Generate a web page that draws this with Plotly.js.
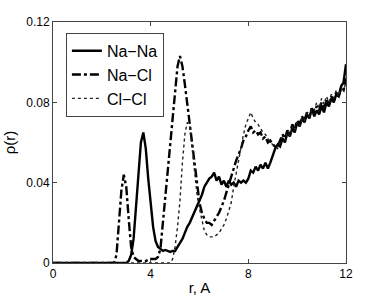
<!DOCTYPE html>
<html><head><meta charset="utf-8">
<script src="https://cdn.plot.ly/plotly-3.0.1.min.js"></script>
<style>html,body{margin:0;padding:0;background:#fff}#c{width:382px;height:300px}</style>
</head><body><div id="c"></div>
<script>
// Na–Na radial distribution
const rNaNa = [0,3.0,3.1,3.2,3.3,3.4,3.5,3.6,3.7,3.8,3.9,4.0,4.1,4.2,4.3,4.4,4.5,4.6,4.7,4.8,4.9,5.0,5.1,5.2,5.3,5.4,5.5,5.6,5.7,5.8,5.9,6.0,6.1,6.2,6.3,6.4,6.5,6.6,6.7,6.8,6.9,7.0,7.1,7.2,7.3,7.4,7.5,7.6,7.7,7.8,7.9,8.0,8.1,8.2,8.3,8.4,8.5,8.6,8.7,8.8,8.9,9.0,9.1,9.2,9.3,9.4,9.5,9.6,9.7,9.8,9.9,10.0,10.1,10.2,10.3,10.4,10.5,10.6,10.7,10.8,10.9,11.0,11.1,11.2,11.3,11.4,11.5,11.6,11.7,11.8,11.9,12.0];
const naNa = [0,0,0.001,0.004,0.012,0.027,0.045,0.060,0.065,0.057,0.042,0.028,0.018,0.011,0.008,0.007,0.006,0.0065,0.006,0.0055,0.006,0.006,0.008,0.010,0.012,0.015,0.018,0.020,0.023,0.026,0.028,0.031,0.034,0.038,0.040,0.042,0.043,0.045,0.041,0.043,0.039,0.041,0.038,0.041,0.039,0.040,0.038,0.041,0.040,0.041,0.040,0.042,0.046,0.045,0.048,0.046,0.049,0.047,0.050,0.047,0.050,0.054,0.057,0.059,0.058,0.062,0.060,0.065,0.063,0.067,0.065,0.070,0.068,0.072,0.070,0.074,0.072,0.077,0.073,0.076,0.074,0.078,0.075,0.080,0.078,0.082,0.080,0.084,0.083,0.088,0.090,0.099];
// Na–Cl
const rNaCl = [0,2.5,2.6,2.7,2.8,2.9,3.0,3.1,3.2,3.3,3.4,3.5,3.6,3.7,3.8,3.9,4.0,4.1,4.2,4.3,4.4,4.5,4.6,4.7,4.8,4.9,5.0,5.1,5.2,5.3,5.4,5.5,5.6,5.7,5.8,5.9,6.0,6.1,6.2,6.3,6.4,6.5,6.6,6.7,6.8,6.9,7.0,7.1,7.2,7.3,7.4,7.5,7.6,7.7,7.8,7.9,8.0,8.1,8.2,8.3,8.4,8.5,8.6,8.7,8.8,8.9,9.0,9.1,9.2,9.3,9.4,9.5,9.6,9.7,9.8,9.9,10.0,10.1,10.2,10.3,10.4,10.5,10.6,10.7,10.8,10.9,11.0,11.1,11.2,11.3,11.4,11.5,11.6,11.7,11.8,11.9,12.0];
const naCl = [0,0,0.004,0.018,0.036,0.044,0.038,0.022,0.008,0.003,0.002,0.001,0.001,0.0008,0.001,0.0015,0.002,0.002,0.002,0.003,0.007,0.020,0.033,0.043,0.056,0.070,0.085,0.098,0.103,0.098,0.089,0.079,0.069,0.058,0.048,0.038,0.030,0.025,0.022,0.020,0.020,0.019,0.021,0.023,0.025,0.028,0.031,0.035,0.039,0.044,0.048,0.051,0.054,0.057,0.061,0.063,0.066,0.068,0.065,0.066,0.064,0.065,0.062,0.063,0.060,0.061,0.059,0.058,0.058,0.061,0.064,0.062,0.066,0.064,0.069,0.067,0.071,0.069,0.073,0.071,0.075,0.073,0.077,0.075,0.078,0.076,0.080,0.077,0.081,0.079,0.083,0.081,0.085,0.083,0.087,0.086,0.092];
// Cl–Cl
const rClCl = [0,4.8,4.9,5.0,5.1,5.2,5.3,5.4,5.5,5.6,5.7,5.8,5.9,6.0,6.1,6.2,6.3,6.4,6.5,6.6,6.7,6.8,6.9,7.0,7.1,7.2,7.3,7.4,7.5,7.6,7.7,7.8,7.9,8.0,8.1,8.2,8.3,8.4,8.5,8.6,8.7,8.8,8.9,9.0,9.1,9.2,9.3,9.4,9.5,9.6,9.7,9.8,9.9,10.0,10.1,10.2,10.3,10.4,10.5,10.6,10.7,10.8,10.9,11.0,11.1,11.2,11.3,11.4,11.5,11.6,11.7,11.8,11.9,12.0];
const clCl = [0,0,0.002,0.008,0.018,0.031,0.050,0.064,0.070,0.068,0.057,0.044,0.034,0.027,0.021,0.016,0.014,0.013,0.013,0.013,0.014,0.015,0.017,0.019,0.022,0.026,0.030,0.038,0.045,0.052,0.058,0.064,0.069,0.072,0.075,0.072,0.070,0.069,0.067,0.065,0.064,0.062,0.060,0.059,0.058,0.057,0.060,0.063,0.061,0.065,0.063,0.068,0.066,0.070,0.068,0.072,0.071,0.075,0.073,0.077,0.076,0.080,0.077,0.082,0.079,0.083,0.080,0.084,0.082,0.086,0.083,0.087,0.086,0.090];

const xTicks = [0,4,8,12];
const yTicks = [0,0.04,0.08,0.12];
const yTickText = ['0','0.04','0.08','0.12'];
const names = ['Na\u2212Na','Na\u2212Cl','Cl\u2212Cl'];

const traces = [
  {x:rNaNa, y:naNa, name:names[0], mode:'lines', line:{color:'#000', width:2.4, dash:'solid'}},
  {x:rNaCl, y:naCl, name:names[1], mode:'lines', line:{color:'#000', width:2.4, dash:'dashdot'}},
  {x:rClCl, y:clCl, name:names[2], mode:'lines', line:{color:'#222', width:1.4, dash:'dot'}}
];
const axisCommon = {showgrid:false, zeroline:false, showline:true, mirror:'ticks', linecolor:'#444', linewidth:1,
  ticks:'inside', ticklen:4, tickcolor:'#444', tickfont:{family:'Liberation Sans, Arial', size:12, color:'#000'}};
const layout = {
  width:382, height:300, paper_bgcolor:'#fff', plot_bgcolor:'#fff',
  margin:{l:53, r:36, t:22, b:37},
  xaxis:Object.assign({}, axisCommon, {range:[0,12], tickvals:xTicks, ticktext:xTicks.map(String),
    title:{text:'r, A', font:{family:'Liberation Sans, Arial', size:15, color:'#000'}, standoff:2}}),
  yaxis:Object.assign({}, axisCommon, {range:[0,0.12], tickvals:yTicks, ticktext:yTickText,
    title:{text:'\u03c1(r)', font:{family:'Liberation Sans, Arial', size:15, color:'#000'}, standoff:6}}),
  showlegend:true,
  legend:{x:0.044, y:0.955, xanchor:'left', yanchor:'top', bgcolor:'#fff', bordercolor:'#444', borderwidth:1,
    font:{family:'Liberation Sans, Arial', size:16, color:'#000'}, tracegroupgap:0, itemwidth:30},
  font:{family:'Liberation Sans, Arial', color:'#000'}
};
Plotly.newPlot('c', traces, layout, {staticPlot:true, displayModeBar:false});
</script></body></html>
